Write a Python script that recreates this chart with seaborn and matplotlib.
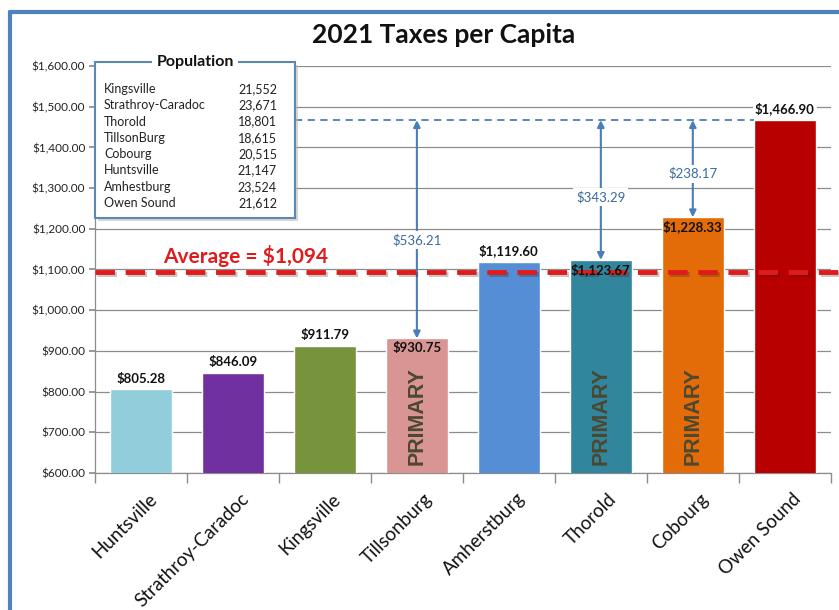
import matplotlib
matplotlib.use("Agg")
import matplotlib.pyplot as plt
import matplotlib.patheffects as pe
import matplotlib.transforms as mtransforms
from matplotlib.patches import Rectangle
import seaborn as sns
import pandas as pd

# Data
towns = ["Huntsville", "Strathroy-Caradoc", "Kingsville", "Tillsonburg",
         "Amherstburg", "Thorold", "Cobourg", "Owen Sound"]
taxes = [805.28, 846.09, 911.79, 930.75, 1119.60, 1123.67, 1228.33, 1466.90]
bar_colors = ["#92CDDC", "#7030A0", "#77933C", "#D99594",
              "#558ED5", "#31859C", "#E36C09", "#B80000"]
primary_towns = ["Tillsonburg", "Thorold", "Cobourg"]
gap_labels = {"Tillsonburg": "$536.21", "Thorold": "$343.29", "Cobourg": "$238.17"}
average_value = 1094
pop_names = ["Kingsville", "Strathroy-Caradoc", "Thorold", "TillsonBurg",
             "Cobourg", "Huntsville", "Amhestburg", "Owen Sound"]
pop_values = ["21,552", "23,671", "18,801", "18,615",
              "20,515", "21,147", "23,524", "21,612"]
y_ticks = [600, 700, 800, 900, 1000, 1100, 1200, 1300, 1400, 1500, 1600]

sns.set_theme(style="white")
plt.rcParams["font.family"] = ["Lato", "DejaVu Sans"]

df = pd.DataFrame({"town": towns, "tax": taxes})

fig = plt.figure(figsize=(8.39, 6.10), dpi=100)
ax = fig.add_axes([0.1132, 0.2246, 0.877, 0.6672])

sns.barplot(data=df, x="town", y="tax", hue="town", palette=bar_colors,
            order=towns, hue_order=towns, width=0.67, saturation=1,
            legend=False, ax=ax, zorder=3)

ax.set_xlim(-0.5, len(towns) - 0.5)
ax.set_ylim(600, 1600)
ax.set_yticks(y_ticks)
ax.set_yticklabels([f"${v:,.2f}" for v in y_ticks], fontsize=8.5, color="#222222")
ax.yaxis.grid(True, color="#8C8C8C", linewidth=0.9, zorder=0)
ax.set_axisbelow(True)
ax.set_xlabel("")
ax.set_ylabel("")
for side in ["top", "right"]:
    ax.spines[side].set_visible(False)
for side in ["left", "bottom"]:
    ax.spines[side].set_color("#8C8C8C")
    ax.spines[side].set_linewidth(0.9)
ax.tick_params(axis="y", left=True, length=4, color="#8C8C8C", pad=3)
ax.tick_params(axis="x", bottom=False, pad=2)

# Category boundary ticks
ax.set_xticks([i - 0.5 for i in range(len(towns) + 1)], minor=True)
ax.tick_params(axis="x", which="minor", bottom=True, length=7, color="#8C8C8C")

ax.set_xticks(range(len(towns)))
ax.set_xticklabels(towns, rotation=45, ha="right", va="top",
                   rotation_mode="anchor", fontsize=13.5, color="#111111")
shift = mtransforms.ScaledTranslation(7 / 100, -6 / 100, fig.dpi_scale_trans)
for lab in ax.get_xticklabels():
    lab.set_transform(lab.get_transform() + shift)

# Value labels
for i, (t, v) in enumerate(zip(towns, taxes)):
    if t in primary_towns:
        ax.text(i, v - 8, f"${v:,.2f}", ha="center", va="top", fontsize=9.5,
                fontweight="bold", color="#111111", zorder=9)
        ax.text(i, 620, "PRIMARY", rotation=90, ha="center", va="bottom",
                fontsize=15.5, fontweight="bold", color="#4C4830",
                family=["Liberation Sans", "DejaVu Sans"], zorder=6)
    else:
        ax.text(i, v + 12, f"${v:,.2f}", ha="center", va="bottom", fontsize=9.5,
                fontweight="bold", color="#111111", zorder=6,
                bbox=dict(facecolor="white", edgecolor="none", pad=1.5))

# Gap to the top bar
top = max(taxes)
arrow_color = "#4A7EBB"
ax.plot([1.674, len(towns) - 1 - 0.335], [top, top], color=arrow_color,
        linestyle=(0, (4, 3)), linewidth=1.3, zorder=2)
for t, lab in gap_labels.items():
    i = towns.index(t)
    v = taxes[i]
    ax.annotate("", xy=(i, v), xytext=(i, top),
                arrowprops=dict(arrowstyle="<|-|>", color=arrow_color, lw=1.5,
                                mutation_scale=10, shrinkA=0, shrinkB=0), zorder=5)
    ax.text(i, v + 0.45 * (top - v), lab,
            ha="center", va="center", fontsize=9.5, color="#3B6A9E", zorder=6,
            bbox=dict(facecolor="white", edgecolor="none", pad=2))

# Average line
ax.plot([-0.5, 7.6], [average_value, average_value], color="#E01B1B",
        linestyle=(0, (4, 2.2)), linewidth=3.5, clip_on=False, zorder=7,
        path_effects=[pe.SimpleLineShadow(offset=(1.5, -1.5), alpha=0.25), pe.Normal()])
ax.text(0.24, average_value + 40, f"Average = ${average_value:,}", ha="left",
        va="center", fontsize=15, fontweight="bold", color="#E01B1B", zorder=7)

# Population box
bx0, bx1 = 95 / 839, 295 / 839
by0, by1 = 1 - 218 / 610, 1 - 62 / 610
fig.add_artist(Rectangle((bx0 + 3 / 839, by0 - 3 / 610), bx1 - bx0, by1 - by0,
                         transform=fig.transFigure, facecolor="#BBBBBB",
                         edgecolor="none", alpha=0.6, zorder=8))
fig.add_artist(Rectangle((bx0, by0), bx1 - bx0, by1 - by0,
                         transform=fig.transFigure, facecolor="white",
                         edgecolor="#5B87B5", linewidth=1.5, zorder=9))
fig.text((bx0 + bx1) / 2, by1, "Population", ha="center", va="center",
         fontsize=11.5, fontweight="bold", color="#111111", zorder=10,
         bbox=dict(facecolor="white", edgecolor="none", pad=3))
row_top = 1 - 89 / 610
row_step = 16.3 / 610
for k, (name, val) in enumerate(zip(pop_names, pop_values)):
    y = row_top - k * row_step
    fig.text(104 / 839, y, name, ha="left", va="center", fontsize=9,
             color="#222222", zorder=10)
    fig.text(277 / 839, y, val, ha="right", va="center", fontsize=9,
             color="#222222", zorder=10)

# Title
fig.text(444 / 839, 1 - 35 / 610, "2021 Taxes per Capita", ha="center",
         va="center", fontsize=19, fontweight="bold", color="#111111")

# Outer frame
frame_color = "#4F81BD"
fig.add_artist(plt.Line2D([10 / 839, 10 / 839], [0, 1 - 12 / 610],
                          transform=fig.transFigure, color=frame_color, lw=3))
fig.add_artist(plt.Line2D([10 / 839, 1], [1 - 12 / 610, 1 - 12 / 610],
                          transform=fig.transFigure, color=frame_color, lw=3))

fig.savefig("out.png", dpi=100)
